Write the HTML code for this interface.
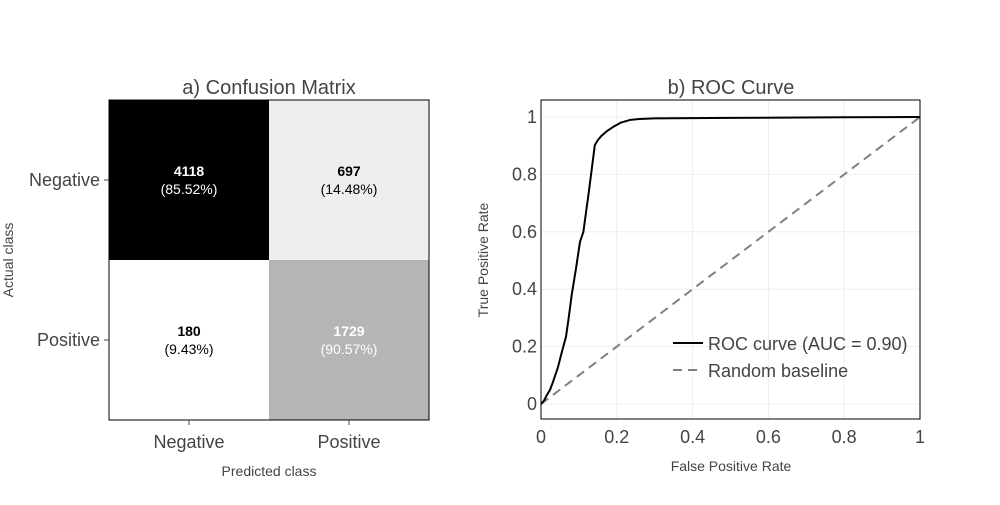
<!DOCTYPE html>
<html><head><meta charset="utf-8"><style>
body{margin:0;background:#fff;font-family:"Liberation Sans",sans-serif}
svg text{font-family:"Liberation Sans",sans-serif}
</style></head><body>
<svg id="chart" width="1000" height="500" xmlns="http://www.w3.org/2000/svg">
<rect width="1000" height="500" fill="#fff"/>
<g id="cm"></g>
<g id="roc"></g>
</svg>
<script>
const cmClasses=["Negative","Positive"];
const cmCounts=[[4118,697],[180,1729]];
const cmPcts=[["85.52%","14.48%"],["9.43%","90.57%"]];
const cmFills=[["#000000","#eeeeee"],["#ffffff","#b5b5b5"]];
const cmText=[["#ffffff","#000000"],["#000000","#ffffff"]];
const rocFpr=[0,0.008,0.015,0.024,0.032,0.044,0.055,0.066,0.073,0.081,0.092,0.103,0.112,0.118,0.125,0.134,0.142,0.15,0.16,0.175,0.191,0.21,0.235,0.26,0.3,0.5,0.8,1];
const rocTpr=[0,0.012,0.03,0.05,0.078,0.125,0.18,0.235,0.3,0.38,0.47,0.565,0.6,0.66,0.728,0.82,0.902,0.92,0.935,0.952,0.966,0.98,0.99,0.993,0.995,0.997,0.999,1];
const ticks=[0,0.2,0.4,0.6,0.8,1];
const NS="http://www.w3.org/2000/svg";
function mk(p,t,a,txt){const e=document.createElementNS(NS,t);for(const k in a)e.setAttribute(k,a[k]);if(txt!==undefined)e.textContent=txt;p.appendChild(e);return e;}
const cm=document.getElementById('cm');
const L=109,T=100,S=160;
for(let r=0;r<2;r++)for(let c=0;c<2;c++){
 const x=L+c*S,y=T+r*S;
 const rc=mk(cm,'rect',{x:x,y:y,width:S,height:S,fill:cmFills[r][c]});
 
 
 const t1=mk(cm,'text',{x:x+S/2,y:y+76,'text-anchor':'middle','font-size':14,'font-weight':'bold',fill:cmText[r][c]},cmCounts[r][c]);
 
 
 const t2=mk(cm,'text',{x:x+S/2,y:y+94,'text-anchor':'middle','font-size':14,fill:cmText[r][c]},'('+cmPcts[r][c]+')');
 
 
}
mk(cm,'rect',{x:L,y:T,width:2*S,height:2*S,fill:'none',stroke:'#000','stroke-width':1});
cmClasses.forEach((c,i)=>{
 mk(cm,'line',{x1:L+S/2+i*S,x2:L+S/2+i*S,y1:T+2*S,y2:T+2*S+5,stroke:'#444'});
 const xt=mk(cm,'text',{x:L+S/2+i*S,y:448,'text-anchor':'middle','font-size':18,fill:'#444'},c);
 
 
 mk(cm,'line',{x1:L-5,x2:L,y1:T+S/2+i*S,y2:T+S/2+i*S,stroke:'#444'});
 const yt=mk(cm,'text',{x:L-9,y:T+S/2+i*S+6,'text-anchor':'end','font-size':18,fill:'#444'},c);
 
 
});
mk(cm,'text',{x:269,y:94,'text-anchor':'middle','font-size':20,fill:'#444',},'a) Confusion Matrix');
mk(cm,'text',{x:269,y:476,'text-anchor':'middle','font-size':14,fill:'#444',},'Predicted class');
mk(cm,'text',{x:0,y:0,transform:'translate(13,260) rotate(-90)','text-anchor':'middle','font-size':14,fill:'#444',},'Actual class');
const roc=document.getElementById('roc');
const PL=541,PR=920,PT=100,PB=419;
const xs=v=>PL+v*(PR-PL);
const ys=v=>404-v*287;
ticks.forEach(t=>{
 mk(roc,'line',{x1:xs(t),x2:xs(t),y1:PT,y2:PB,stroke:'#eee'});
 mk(roc,'line',{x1:PL,x2:PR,y1:ys(t),y2:ys(t),stroke:'#eee'});
 const xl=mk(roc,'text',{x:xs(t),y:443,'text-anchor':'middle','font-size':18,fill:'#444'},String(t));
 
 
 const yl=mk(roc,'text',{x:PL-4,y:ys(t)+6,'text-anchor':'end','font-size':18,fill:'#444'},String(t));
 
 
});
const base=mk(roc,'line',{x1:xs(0),y1:ys(0),x2:xs(1),y2:ys(1),stroke:'#808080','stroke-width':2,'stroke-dasharray':'9,6'});


const rp=mk(roc,'path',{d:rocFpr.map((f,i)=>(i?'L':'M')+xs(f).toFixed(1)+','+ys(rocTpr[i]).toFixed(1)).join(''),fill:'none',stroke:'#000','stroke-width':2,'stroke-linejoin':'round'});


mk(roc,'rect',{x:PL,y:PT,width:PR-PL,height:PB-PT,fill:'none',stroke:'#000'});
mk(roc,'text',{x:731,y:94,'text-anchor':'middle','font-size':20,fill:'#444',},'b) ROC Curve');
mk(roc,'text',{x:731,y:471,'text-anchor':'middle','font-size':14,fill:'#444',},'False Positive Rate');
mk(roc,'text',{x:0,y:0,transform:'translate(488,260) rotate(-90)','text-anchor':'middle','font-size':14,fill:'#444',},'True Positive Rate');
const lg=mk(roc,'g',{});
mk(lg,'line',{x1:673,x2:703,y1:343,y2:343,stroke:'#000','stroke-width':2});
mk(lg,'text',{x:708,y:350,'font-size':18,fill:'#444',},'ROC curve (AUC = 0.90)');
mk(lg,'line',{x1:673,x2:703,y1:370,y2:370,stroke:'#808080','stroke-width':2,'stroke-dasharray':'9,6'});
mk(lg,'text',{x:708,y:377,'font-size':18,fill:'#444',},'Random baseline');
</script>
</body></html>
